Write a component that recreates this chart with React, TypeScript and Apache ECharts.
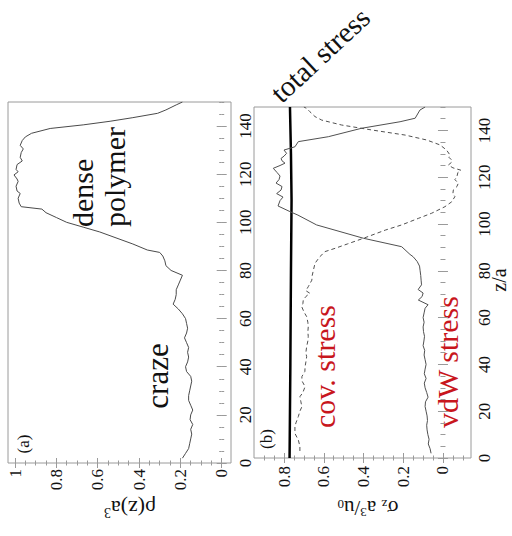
import React, { useEffect, useRef } from "react";
import * as echarts from "echarts";

// ---- panel (a): density profile ----
const DENSITY_Z = [2, 4, 6, 8, 10, 12, 14, 16, 18, 20, 22, 24, 26, 28, 30, 32, 34, 36, 38, 40, 42, 44, 46, 48, 50, 52, 54, 56, 58, 60, 62, 64, 66, 68, 70, 72, 74, 76, 78, 80, 82, 84, 86, 87.5, 88.5, 91, 96, 98, 100, 102, 104, 105.5, 106.5, 108, 110, 112, 113, 115, 117, 118, 119.7, 121, 122, 124, 125.5, 127, 129, 130.5, 132, 134, 135.5, 137, 139, 140.5, 142, 143.5, 145.3, 146.7, 148.8, 150];
const DENSITY_RHO = [0.19, 0.175, 0.16, 0.155, 0.15, 0.145, 0.15, 0.14, 0.153, 0.15, 0.14, 0.15, 0.16, 0.16, 0.155, 0.15, 0.145, 0.15, 0.17, 0.175, 0.165, 0.16, 0.165, 0.16, 0.17, 0.18, 0.17, 0.165, 0.17, 0.175, 0.19, 0.21, 0.235, 0.225, 0.22, 0.22, 0.21, 0.2, 0.19, 0.245, 0.27, 0.275, 0.285, 0.3, 0.36, 0.43, 0.59, 0.67, 0.75, 0.8, 0.85, 0.87, 0.97, 0.98, 0.985, 0.975, 0.99, 0.995, 0.985, 0.99, 1.005, 0.985, 0.995, 0.99, 0.965, 0.975, 0.97, 0.96, 0.975, 0.965, 0.95, 0.92, 0.83, 0.67, 0.54, 0.43, 0.31, 0.27, 0.22, 0.19];

// ---- panel (b): stress profiles ----
const TOTAL_Z = [0, 40, 80, 110, 130, 150];
const TOTAL_SIGMA = [0.772, 0.768, 0.765, 0.762, 0.765, 0.77];

const VDW_Z = [2, 4, 6, 8, 10, 12, 14, 16, 18, 20, 22, 24, 26, 28, 30, 32, 34, 36, 38, 40, 42, 44, 46, 48, 50, 52, 54, 56, 58, 60, 62, 64, 65.5, 67.5, 69, 70.5, 72, 74, 76, 78, 80, 82, 84, 86, 87, 90.3, 93.9, 99.6, 103.8, 105.3, 107.7, 110, 111.5, 113, 114.5, 116, 117.5, 119, 120.5, 122, 123.8, 125, 126, 127, 128, 129, 130.2, 131.6, 133, 135.2, 137.3, 140.9, 143.7, 145.2, 148.7, 150];
const VDW_SIGMA = [0.06, 0.065, 0.074, 0.07, 0.076, 0.08, 0.082, 0.078, 0.08, 0.085, 0.09, 0.088, 0.075, 0.082, 0.09, 0.094, 0.085, 0.094, 0.09, 0.085, 0.09, 0.095, 0.092, 0.1, 0.096, 0.093, 0.098, 0.1, 0.095, 0.1, 0.095, 0.09, 0.075, 0.124, 0.105, 0.1, 0.125, 0.108, 0.11, 0.112, 0.115, 0.118, 0.13, 0.15, 0.166, 0.208, 0.4, 0.636, 0.73, 0.77, 0.83, 0.82, 0.805, 0.837, 0.815, 0.81, 0.84, 0.825, 0.82, 0.835, 0.854, 0.82, 0.795, 0.81, 0.815, 0.8, 0.787, 0.8, 0.745, 0.728, 0.577, 0.41, 0.216, 0.14, 0.116, 0.09];

const COV_Z = [3, 5, 7.7, 10.5, 13.4, 15, 17.7, 20, 21.9, 24, 26.2, 28, 30.5, 33, 34.8, 37, 39, 41, 43.3, 45, 47.6, 50, 51.9, 54, 56, 58, 60.4, 62.5, 64.7, 66, 67.5, 69, 70.4, 71.5, 73.2, 76, 78, 80.3, 83.2, 86, 88.2, 89.6, 91.5, 93.9, 97.4, 99.6, 102.4, 104.6, 107.4, 109.5, 111.7, 113, 114.5, 116, 117.4, 119, 120.2, 122, 123, 124, 125.2, 126.5, 127.4, 128.5, 129.5, 131.6, 133.8, 135.9, 138, 140.2, 142.3, 144.4, 145.9, 148, 149.4, 150];
const COV_SIGMA = [0.72, 0.72, 0.728, 0.745, 0.745, 0.74, 0.728, 0.72, 0.71, 0.715, 0.72, 0.705, 0.694, 0.71, 0.71, 0.695, 0.694, 0.69, 0.686, 0.69, 0.686, 0.68, 0.678, 0.68, 0.678, 0.68, 0.686, 0.7, 0.711, 0.705, 0.703, 0.69, 0.67, 0.69, 0.678, 0.66, 0.658, 0.652, 0.644, 0.62, 0.594, 0.543, 0.48, 0.4, 0.29, 0.208, 0.124, 0.057, -0.01, -0.044, -0.06, -0.05, -0.052, -0.07, -0.077, -0.06, -0.07, -0.075, -0.09, -0.05, -0.027, -0.045, -0.043, -0.03, -0.035, -0.018, 0.015, 0.082, 0.19, 0.36, 0.51, 0.61, 0.644, 0.67, 0.686, 0.7];

// ---- tick labels ----
const Z_TICKS = [0, 20, 40, 60, 80, 100, 120, 140];
const RHO_TICKS = [0, 0.2, 0.4, 0.6, 0.8, 1];
const SIGMA_TICKS = [0, 0.2, 0.4, 0.6, 0.8];

const range = (a: number, b: number, s: number) => {
  const out: number[] = [];
  for (let v = a; v <= b + 1e-9; v += s) out.push(Math.round(v * 1000) / 1000);
  return out;
};
const Z_MINOR = range(0, 150, 5);
const RHO_MINOR = range(0, 1, 0.05);
const SIGMA_MINOR = range(-0.1, 0.9, 0.05);

const FRAME = "#9a9a9a";
const SERIF = "Liberation Serif";
const RED = "#c8161d";
const INK = "#111111";

function pairs(xs: number[], zs: number[]) {
  return zs.map((z, i) => [xs[i], z]);
}

function xAxes(grid: number, min: number, max: number, major: number[], minor: number[], margin: number) {
  const mk = (position: string, ticks: number[], len: number, label: boolean) => ({
    type: "value",
    gridIndex: grid,
    min,
    max,
    inverse: true,
    position,
    axisLine: { show: false },
    splitLine: { show: false },
    axisTick: { show: true, inside: true, length: len, customValues: ticks, lineStyle: { color: FRAME, width: 1 } },
    axisLabel: label
      ? { show: true, customValues: major, rotate: 90, margin, fontSize: 17, fontFamily: SERIF, color: INK }
      : { show: false },
  });
  return [mk("bottom", major, 5, true), mk("top", major, 5, false), mk("bottom", minor, 2.5, false), mk("top", minor, 2.5, false)];
}

function yAxes(grid: number, margin: number) {
  const mk = (position: string, ticks: number[], len: number, label: boolean) => ({
    type: "value",
    gridIndex: grid,
    min: 0,
    max: 150,
    position,
    axisLine: { show: false },
    splitLine: { show: false },
    axisTick: { show: true, inside: true, length: len, customValues: ticks, lineStyle: { color: FRAME, width: 1 } },
    axisLabel: label
      ? { show: true, customValues: Z_TICKS, rotate: 90, margin, fontSize: 17, fontFamily: SERIF, color: INK }
      : { show: false },
  });
  return [mk("right", Z_TICKS, 5, true), mk("left", Z_TICKS, 5, false), mk("right", Z_MINOR, 2.5, false), mk("left", Z_MINOR, 2.5, false)];
}

function rtext(text: string, x: number, y: number, rotation: number, size: number, fill: string, align = "center") {
  return {
    type: "text",
    x,
    y,
    rotation,
    silent: true,
    style: { text, fontSize: size, fontFamily: SERIF, fill, align, verticalAlign: "middle" },
  };
}

export default function App() {
  const ref = useRef<HTMLDivElement>(null);
  useEffect(() => {
    if (!ref.current) return;
    const chart = echarts.init(ref.current, undefined, { renderer: "svg" });
    const H = Math.PI / 2;
    chart.setOption({
      animation: false,
      backgroundColor: "#ffffff",
      textStyle: { fontFamily: SERIF },
      grid: [
        { left: 8, top: 102, width: 223, height: 361, show: true, borderColor: FRAME, borderWidth: 1, backgroundColor: "transparent" },
        { left: 254, top: 107, width: 217, height: 351, show: true, borderColor: FRAME, borderWidth: 1, backgroundColor: "transparent" },
      ],
      xAxis: [
        ...xAxes(0, -0.045, 1.034, RHO_TICKS, RHO_MINOR, 6),
        ...xAxes(1, -0.141, 0.951, SIGMA_TICKS, SIGMA_MINOR, 8),
      ],
      yAxis: [...yAxes(0, 6), ...yAxes(1, 5)],
      series: [
        {
          type: "line",
          xAxisIndex: 0,
          yAxisIndex: 0,
          data: pairs(DENSITY_RHO, DENSITY_Z),
          showSymbol: false,
          symbol: "none",
          lineStyle: { color: "#4a4a4a", width: 1 },
        },
        {
          type: "line",
          xAxisIndex: 4,
          yAxisIndex: 4,
          data: pairs(TOTAL_SIGMA, TOTAL_Z),
          showSymbol: false,
          symbol: "none",
          lineStyle: { color: "#000", width: 2.5 },
        },
        {
          type: "line",
          xAxisIndex: 4,
          yAxisIndex: 4,
          data: pairs(VDW_SIGMA, VDW_Z),
          showSymbol: false,
          symbol: "none",
          lineStyle: { color: "#505050", width: 1 },
        },
        {
          type: "line",
          xAxisIndex: 4,
          yAxisIndex: 4,
          data: pairs(COV_SIGMA, COV_Z),
          showSymbol: false,
          symbol: "none",
          lineStyle: { color: "#505050", width: 1, type: [4, 3] },
        },
      ],
      graphic: [
        rtext("(a)", 23, 444, H, 17, INK),
        rtext("(b)", 266, 439, H, 17, INK),
        rtext("craze", 157, 376, H, 31, INK),
        rtext("dense", 82, 227, H, 30, INK, "left"),
        rtext("polymer", 114, 227, H, 30, INK, "left"),
        rtext("cov. stress", 324, 428, H, 30, RED, "left"),
        rtext("vdW stress", 447, 428, H, 30, RED, "left"),
        rtext("total stress", 320, 55, 0.75, 29, INK),
        rtext("z/a", 499, 280, H, 20, INK),
        {
          type: "text",
          x: 130,
          y: 508,
          rotation: Math.PI,
          silent: true,
          style: {
            text: "{m|ρ(z)a}{s|3}",
            align: "center",
            verticalAlign: "middle",
            fill: INK,
            rich: {
              m: { fontSize: 22, fontFamily: SERIF, fill: INK },
              s: { fontSize: 14, fontFamily: SERIF, fill: INK, padding: [0, 0, 8, 0] },
            },
          },
        },
        {
          type: "text",
          x: 368,
          y: 508,
          rotation: Math.PI,
          silent: true,
          style: {
            text: "{m|σ}{b|z}{m| a}{s|3}{m|/u}{b|0}",
            align: "center",
            verticalAlign: "middle",
            fill: INK,
            rich: {
              m: { fontSize: 21, fontFamily: SERIF, fill: INK },
              s: { fontSize: 13, fontFamily: SERIF, fill: INK, padding: [0, 0, 9, 0] },
              b: { fontSize: 13, fontFamily: SERIF, fill: INK, padding: [8, 0, 0, 0] },
            },
          },
        },
      ],
    });
    return () => chart.dispose();
  }, []);
  return <div ref={ref} style={{ position: "absolute", left: 0, top: 0, width: 512, height: 536, background: "#fff" }} />;
}
